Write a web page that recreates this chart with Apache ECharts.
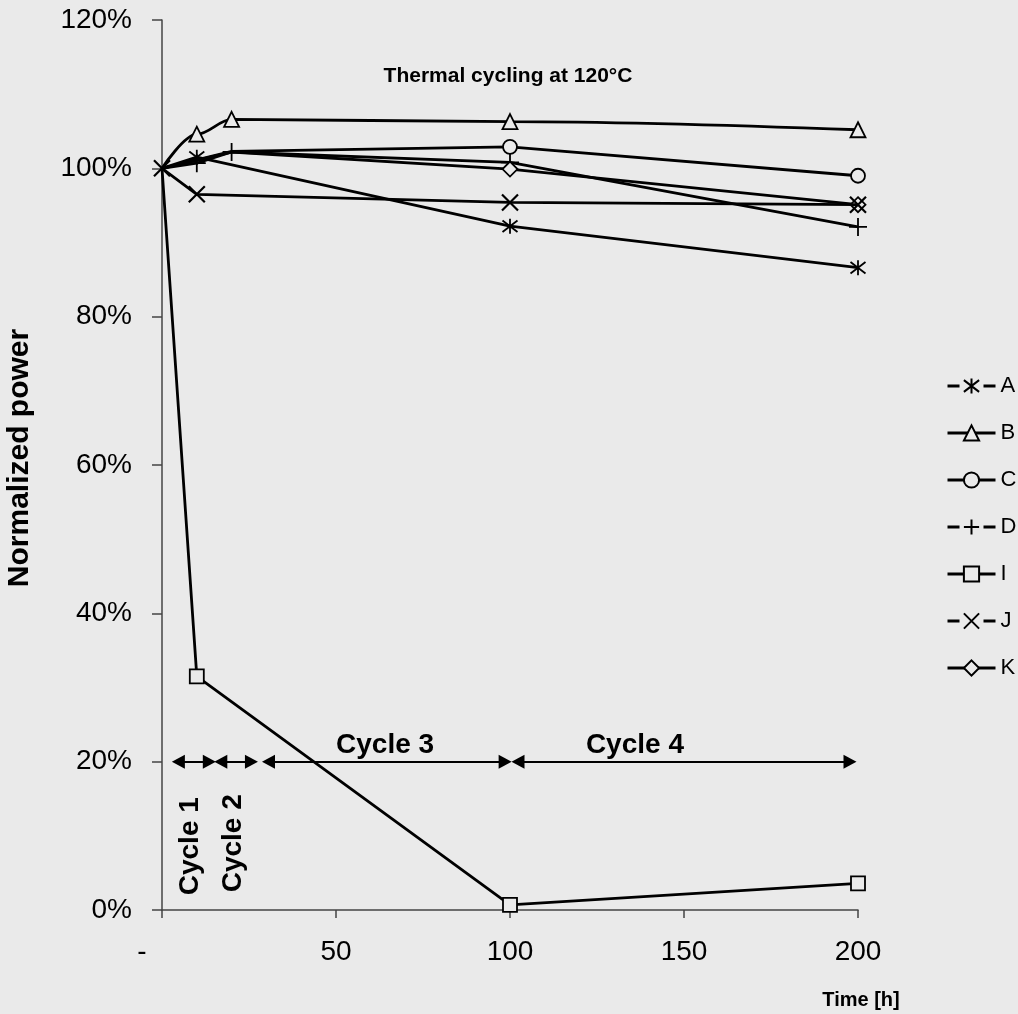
<!DOCTYPE html>
<html>
<head>
<meta charset="utf-8">
<script src="https://cdn.jsdelivr.net/npm/echarts@6/dist/echarts.min.js"></script>
<style>
  html, body { margin: 0; padding: 0; background: #eaeaea; }
  #chart { width: 1018px; height: 1014px; }
</style>
</head>
<body>
<div id="chart"></div>
<script>
// Normalized power [%] versus time [h], one array of [time, value] per module
const seriesNames = ['A', 'B', 'C', 'D', 'I', 'J', 'K'];
const powerA = [[0, 100], [10, 101.5], [100, 92.2], [200, 86.6]];
const powerB = [[0, 100], [10, 104.6], [20, 106.6], [100, 106.3], [200, 105.2]];
const powerC = [[0, 100], [20, 102.3], [100, 102.9], [200, 99.0]];
const powerD = [[0, 100], [10, 100.7], [20, 102.2], [100, 100.8], [200, 92.1]];
const powerI = [[0, 100], [10, 31.5], [100, 0.7], [200, 3.6]];
const powerJ = [[0, 100], [10, 96.5], [100, 95.4], [200, 95.1]];
const powerK = [[0, 100], [20, 102.2], [100, 99.9], [200, 95.1]];

// Times at which a series' marker is covered by another one (drawn without marker)
const coveredMarkers = { A: [0], B: [0], C: [0, 20], D: [0], I: [0], J: [], K: [0, 20] };

// Test cycles: [start h, end h] of each arrow, drawn at the 20 % level
const cycleNames = ['Cycle 1', 'Cycle 2', 'Cycle 3', 'Cycle 4'];
const cycleSpans = [[4.7, 13.6], [16.9, 25.7], [30.6, 98.6], [102.3, 197.7]];
const cycleLevel = 20;
// where each cycle caption sits, in axis units, and its rotation
const cycleCaptionAt = [[8.0, 8.6], [20.4, 9.0], [64.1, 22.2], [135.9, 22.2]];
const cycleCaptionRotate = [90, 90, 0, 0];

// Axis ticks
const xTicks = { min: 0, max: 200, step: 50 };
const yTicks = { min: 0, max: 120, step: 20 };

const FONT = '"Liberation Sans", Arial, Helvetica, sans-serif';
const INK = '#000';
const BG = '#eaeaea';

const markers = {
  A: 'path://M0,0L10,10M10,0L0,10M5,-1.5L5,11.5',
  B: 'triangle',
  C: 'circle',
  D: 'path://M0,5L10,5M5,0L5,10',
  I: 'rect',
  J: 'path://M0,0L10,10M10,0L0,10',
  K: 'diamond'
};
const markerSize = { A: 15, B: 15, C: 14, D: 18, I: 14, J: 16, K: 15 };
const dashedInLegend = { A: true, D: true, J: true };
const powerData = { A: powerA, B: powerB, C: powerC, D: powerD, I: powerI, J: powerJ, K: powerK };

const lineSeries = seriesNames.map(name => ({
  name: name,
  type: 'line',
  data: powerData[name].map(p =>
    coveredMarkers[name].indexOf(p[0]) >= 0 ? { value: p, symbol: 'none' } : p),
  symbol: markers[name],
  symbolSize: markerSize[name],
  showSymbol: true,
  showAllSymbol: true,
  smooth: name === 'B' ? 0.35 : false,
  smoothMonotone: 'x',
  clip: false,
  lineStyle: { color: INK, width: 2.8 },
  itemStyle: { color: BG, borderColor: INK, borderWidth: name === 'J' ? 2.2 : 1.8 },
  emphasis: { disabled: true },
  z: name === 'J' ? 5 : 3
}));

const cycleArrows = {
  name: 'cycles',
  type: 'line',
  data: [],
  silent: true,
  markLine: {
    silent: true,
    symbol: ['triangle', 'triangle'],
    symbolSize: [14, 13],
    lineStyle: { color: INK, width: 2, type: 'solid' },
    label: { show: false },
    emphasis: { disabled: true },
    data: cycleSpans.map(s => [
      { coord: [s[0], cycleLevel] },
      { coord: [s[1], cycleLevel] }
    ])
  },
  z: 2
};

const cycleCaptions = {
  name: 'captions',
  type: 'scatter',
  silent: true,
  symbolSize: 0,
  itemStyle: { color: INK },
  emphasis: { disabled: true },
  data: cycleNames.map((n, i) => ({
    name: n,
    value: cycleCaptionAt[i],
    label: { rotate: cycleCaptionRotate[i] }
  })),
  label: {
    show: true,
    position: 'inside',
    formatter: '{b}',
    color: INK,
    opacity: 1,
    textBorderWidth: 0,
    fontFamily: FONT,
    fontWeight: 'bold',
    fontSize: 28
  },
  z: 4
};

const chart = echarts.init(document.getElementById('chart'), null, { renderer: 'canvas' });

chart.setOption({
  backgroundColor: BG,
  animation: false,
  grid: { left: 162, right: 160, top: 20, bottom: 104 },
  xAxis: {
    type: 'value',
    min: xTicks.min,
    max: xTicks.max,
    interval: xTicks.step,
    axisLine: { lineStyle: { color: '#444', width: 1.5 } },
    axisTick: { show: true, length: 8, lineStyle: { color: '#444', width: 1.5 } },
    splitLine: { show: false },
    axisLabel: {
      margin: 28,
      color: INK,
      fontFamily: FONT,
      fontSize: 28,
      formatter: v => (v === 0 ? '{z|-}' : String(v)),
      rich: { z: { fontFamily: FONT, fontSize: 28, color: INK, padding: [0, 40, 0, 0] } }
    }
  },
  yAxis: {
    type: 'value',
    min: yTicks.min,
    max: yTicks.max,
    interval: yTicks.step,
    axisLine: { show: true, lineStyle: { color: '#444', width: 1.5 } },
    axisTick: { show: true, length: 10, lineStyle: { color: '#444', width: 1.5 } },
    splitLine: { show: false },
    axisLabel: {
      margin: 30,
      color: INK,
      fontFamily: FONT,
      fontSize: 28,
      formatter: '{value}%'
    }
  },
  legend: {
    orient: 'vertical',
    left: 941,
    top: 370,
    itemWidth: 48,
    itemHeight: 19,
    itemGap: 25,
    selectedMode: false,
    lineStyle: { width: 3 },
    textStyle: { color: INK, fontFamily: FONT, fontSize: 22, lineHeight: 22 },
    data: seriesNames.map(n => dashedInLegend[n]
      ? { name: n, lineStyle: { type: [12, 24], width: 3 } }
      : { name: n })
  },
  graphic: [
    {
      type: 'text',
      x: 508, y: 76,
      style: {
        text: 'Thermal cycling at 120°C',
        fill: INK,
        font: 'bold 21px ' + FONT,
        textAlign: 'center',
        textVerticalAlign: 'middle'
      }
    },
    {
      type: 'text',
      x: 20, y: 458,
      rotation: Math.PI / 2,
      style: {
        text: 'Normalized power',
        fill: INK,
        font: 'bold 30px ' + FONT,
        textAlign: 'center',
        textVerticalAlign: 'middle'
      }
    },
    {
      type: 'text',
      x: 861, y: 1000,
      style: {
        text: 'Time [h]',
        fill: INK,
        font: 'bold 20px ' + FONT,
        textAlign: 'center',
        textVerticalAlign: 'middle'
      }
    }
  ],
  series: [cycleArrows].concat(lineSeries, [cycleCaptions])
});
</script>
</body>
</html>
